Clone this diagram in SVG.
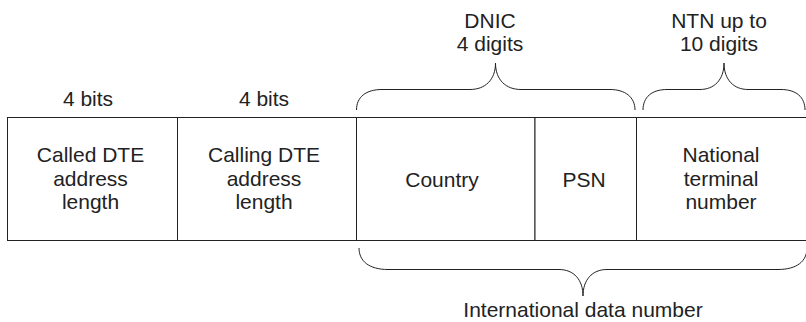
<svg xmlns="http://www.w3.org/2000/svg" width="806" height="322" viewBox="0 0 806 322">
<style>
.cell{fill:#fff;stroke:#222;stroke-width:1}
.t{font-family:"Liberation Sans",Arial,Helvetica,sans-serif;font-size:21px;fill:#222;text-anchor:middle}
.brace{fill:none;stroke:#222;stroke-width:1}
</style>
<rect width="806" height="322" fill="#fff"/>
<g id="called">
<rect class="cell" x="7.5" y="117.5" width="170" height="123"/>
<text class="t" x="90.5" y="162">Called DTE</text>
<text class="t" x="90.5" y="185.5">address</text>
<text class="t" x="90.5" y="209">length</text>
</g>
<g id="calling">
<rect class="cell" x="177.5" y="117.5" width="179" height="123"/>
<text class="t" x="264" y="162">Calling DTE</text>
<text class="t" x="264" y="185.5">address</text>
<text class="t" x="264" y="209">length</text>
</g>
<g id="country">
<rect class="cell" x="356.5" y="117.5" width="178.5" height="123"/>
<text class="t" x="442" y="186.5">Country</text>
</g>
<g id="psn">
<rect class="cell" x="535" y="117.5" width="101.5" height="123"/>
<text class="t" x="584" y="186.5">PSN</text>
</g>
<g id="ntn">
<rect class="cell" x="636.5" y="117.5" width="180" height="123"/>
<text class="t" x="721" y="162">National</text>
<text class="t" x="721" y="185.5">terminal</text>
<text class="t" x="721" y="209">number</text>
</g>
<g id="labels">
<text class="t" x="88" y="105.5">4 bits</text>
<text class="t" x="264" y="105.5">4 bits</text>
<text class="t" x="490" y="27.5">DNIC</text>
<text class="t" x="490" y="51">4 digits</text>
<text class="t" x="719" y="27.5">NTN up to</text>
<text class="t" x="719" y="51">10 digits</text>
<text class="t" x="583" y="317">International data number</text>
</g>
<g id="connectors">
<path class="brace" d="M356.5,110 C356.5,97 366,89.5 382,89.5 L470,89.5 C485,89.5 495.5,80 495.5,63 C495.5,80 506,89.5 521,89.5 L610,89.5 C625,89.5 635,97 635,110"/>
<path class="brace" d="M643,110 C643,97 652,89.5 667,89.5 L700,89.5 C714,89.5 724,80 724,63 C724,80 734,89.5 748,89.5 L781,89.5 C796,89.5 805,97 805,110"/>
<path class="brace" d="M359,248 C359,261 369,269.5 388,269.5 L559,269.5 C574,269.5 583,280 583,296 C583,280 592,269.5 607,269.5 L778,269.5 C797,269.5 807,261 807,248"/>
</g>
</svg>
